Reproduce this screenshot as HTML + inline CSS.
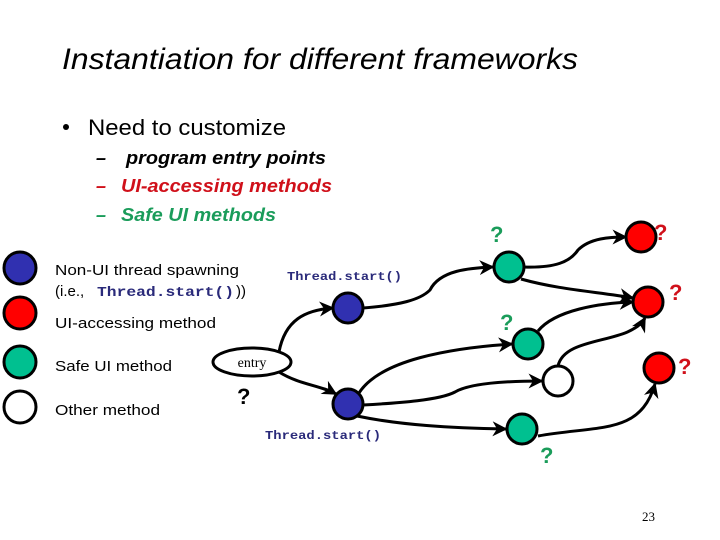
<!DOCTYPE html>
<html><head><meta charset="utf-8"><style>
html,body{margin:0;padding:0;background:#fff;}
svg{display:block;}
</style></head><body>
<svg width="720" height="540" viewBox="0 0 720 540" xmlns="http://www.w3.org/2000/svg" font-family="Liberation Sans, Arial, sans-serif">
<defs>
<marker id="a" viewBox="0 0 10 10" refX="9" refY="5" markerWidth="5" markerHeight="5" orient="auto"><path d="M0,0 L10,5 L0,10 L3,5 z" fill="#000"/></marker>
</defs>
<text x="62" y="69" font-size="30" font-style="italic" fill="#000" textLength="516" lengthAdjust="spacingAndGlyphs">Instantiation for different frameworks</text>
<circle cx="66" cy="127" r="3" fill="#000"/>
<text x="88" y="135" font-size="22" fill="#000" textLength="198" lengthAdjust="spacingAndGlyphs">Need to customize</text>
<g font-size="18" font-weight="bold" font-style="italic">
<text x="96" y="164" fill="#000">–</text>
<text x="126" y="164" fill="#000" textLength="200" lengthAdjust="spacingAndGlyphs">program entry points</text>
<text x="96" y="192" fill="#d0101a">–</text>
<text x="121" y="192" fill="#d0101a" textLength="211" lengthAdjust="spacingAndGlyphs">UI-accessing methods</text>
<text x="96" y="221" fill="#1a9c5a">–</text>
<text x="121" y="221" fill="#1a9c5a" textLength="155" lengthAdjust="spacingAndGlyphs">Safe UI methods</text>
</g>
<g stroke="#000" stroke-width="3">
<circle cx="20" cy="268" r="16" fill="#3030b0"/>
<circle cx="20" cy="313" r="16" fill="#ff0000"/>
<circle cx="20" cy="362" r="16" fill="#00c090"/>
<circle cx="20" cy="407" r="16" fill="#fff"/>
</g>
<g font-size="15" fill="#000">
<text x="55" y="275" textLength="184" lengthAdjust="spacingAndGlyphs">Non-UI thread spawning</text>
<text x="55" y="296">(i.e.,</text>
<text x="97" y="296" font-family="Liberation Mono, monospace" fill="#2a2a7a" font-weight="bold" font-size="14" textLength="137" lengthAdjust="spacingAndGlyphs">Thread.start()</text>
<text x="236" y="296">))</text>
<text x="55" y="328" textLength="161" lengthAdjust="spacingAndGlyphs">UI-accessing method</text>
<text x="55" y="371" textLength="117" lengthAdjust="spacingAndGlyphs">Safe UI method</text>
<text x="55" y="415" textLength="105" lengthAdjust="spacingAndGlyphs">Other method</text>
</g>
<g font-family="Liberation Mono, monospace" font-size="12" fill="#2a2a7a" font-weight="bold">
<text x="287" y="280" textLength="115" lengthAdjust="spacingAndGlyphs">Thread.start()</text>
<text x="265" y="439" textLength="116" lengthAdjust="spacingAndGlyphs">Thread.start()</text>
</g>
<g fill="none" stroke="#000" stroke-width="3" marker-end="url(#a)">
<path d="M279,352 C285,320 305,310 333,308"/>
<path d="M279,372 C300,385 320,385 336,394"/>
<path d="M363,308 C400,305 420,300 430,290 C440,270 470,268 493,267"/>
<path d="M524,267 C555,268 570,262 578,250 C590,238 610,237 626,237"/>
<path d="M521,279 C560,290 600,292 633,298"/>
<path d="M538,331 C555,310 600,303 633,302"/>
<path d="M359,393 C380,360 450,348 512,344"/>
<path d="M363,405 C400,403 440,400 455,392 C470,383 510,381 542,381"/>
<path d="M558,366 C565,335 630,345 645,318"/>
<path d="M357,416 C400,425 450,428 506,429"/>
<path d="M538,436 C600,425 640,435 655,384"/>
</g>
<ellipse cx="252" cy="362" rx="39" ry="14" fill="#fff" stroke="#000" stroke-width="3"/>
<text x="252" y="367" font-family="Liberation Serif, serif" font-size="14" text-anchor="middle">entry</text>
<g stroke="#000" stroke-width="3">
<circle cx="348" cy="308" r="15" fill="#3030b0"/>
<circle cx="348" cy="404" r="15" fill="#3030b0"/>
<circle cx="509" cy="267" r="15" fill="#00c090"/>
<circle cx="528" cy="344" r="15" fill="#00c090"/>
<circle cx="558" cy="381" r="15" fill="#fff"/>
<circle cx="522" cy="429" r="15" fill="#00c090"/>
<circle cx="641" cy="237" r="15" fill="#ff0000"/>
<circle cx="648" cy="302" r="15" fill="#ff0000"/>
<circle cx="659" cy="368" r="15" fill="#ff0000"/>
</g>
<g font-size="22" font-weight="bold">
<text x="490" y="242" fill="#1a9c5a">?</text>
<text x="654" y="240" fill="#d0101a">?</text>
<text x="669" y="300" fill="#d0101a">?</text>
<text x="500" y="330" fill="#1a9c5a">?</text>
<text x="678" y="374" fill="#d0101a">?</text>
<text x="237" y="404" fill="#000">?</text>
<text x="540" y="463" fill="#1a9c5a">?</text>
</g>
<text x="642" y="521" font-family="Liberation Serif, serif" font-size="13" fill="#000">23</text>
</svg>
</body></html>
